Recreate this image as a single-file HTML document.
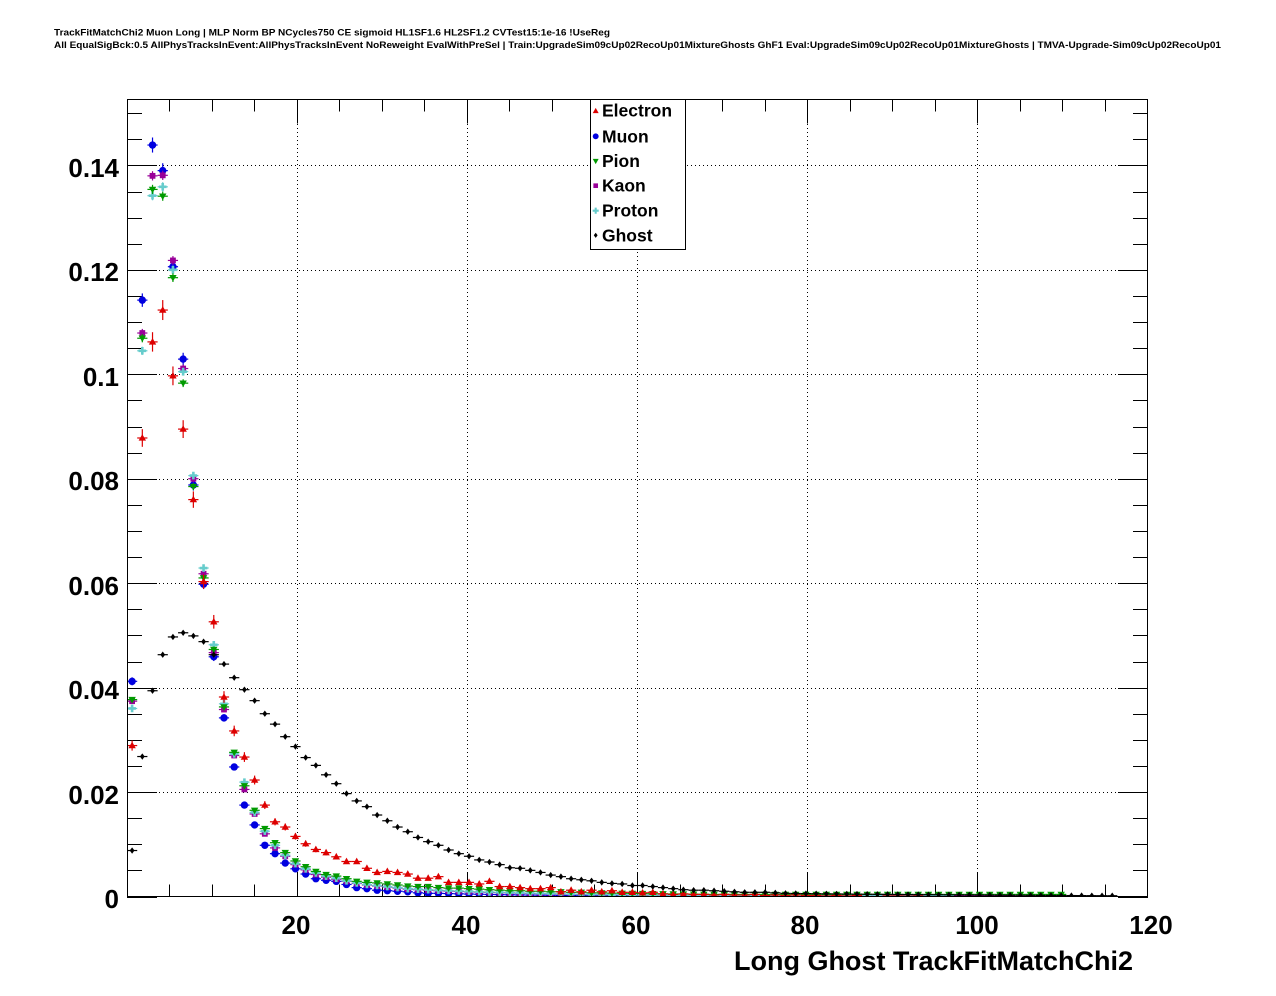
<!DOCTYPE html>
<html>
<head>
<meta charset="utf-8">
<style>
html,body{margin:0;padding:0;background:#fff;}
svg{display:block;}
text{font-family:"Liberation Sans",Arial,Helvetica,sans-serif;font-weight:bold;fill:#000;}
</style>
</head>
<body>
<svg id="c" width="1276" height="996" viewBox="0 0 1276 996" xmlns="http://www.w3.org/2000/svg">
<rect x="0" y="0" width="1276" height="996" fill="#fff"/>
<text x="54" y="35.5" font-size="9" textLength="556" lengthAdjust="spacingAndGlyphs">TrackFitMatchChi2 Muon Long | MLP Norm BP NCycles750 CE sigmoid HL1SF1.6 HL2SF1.2 CVTest15:1e-16 !UseReg</text>
<text x="54" y="48" font-size="9" textLength="1167" lengthAdjust="spacingAndGlyphs">All EqualSigBck:0.5 AllPhysTracksInEvent:AllPhysTracksInEvent NoReweight EvalWithPreSel | Train:UpgradeSim09cUp02RecoUp01MixtureGhosts GhF1 Eval:UpgradeSim09cUp02RecoUp01MixtureGhosts | TMVA-Upgrade-Sim09cUp02RecoUp01</text>

<g stroke="#000" stroke-width="1" stroke-dasharray="1,3" fill="none">
<line x1="127" y1="792.5" x2="1148" y2="792.5"/>
<line x1="127" y1="688.5" x2="1148" y2="688.5"/>
<line x1="127" y1="583.5" x2="1148" y2="583.5"/>
<line x1="127" y1="479.5" x2="1148" y2="479.5"/>
<line x1="127" y1="374.5" x2="1148" y2="374.5"/>
<line x1="127" y1="270.5" x2="1148" y2="270.5"/>
<line x1="127" y1="165.5" x2="1148" y2="165.5"/>
<line x1="297.5" y1="100" x2="297.5" y2="896"/>
<line x1="467.5" y1="100" x2="467.5" y2="896"/>
<line x1="637.5" y1="100" x2="637.5" y2="896"/>
<line x1="807.5" y1="100" x2="807.5" y2="896"/>
<line x1="977.5" y1="100" x2="977.5" y2="896"/>
</g>

<g id="ticks" stroke="#000" stroke-width="1"></g>

<defs><clipPath id="fr"><rect x="127" y="100" width="1021" height="797"/></clipPath></defs>
<g id="data" clip-path="url(#fr)"></g>

<rect x="127.5" y="99.5" width="1020" height="797" fill="none" stroke="#000" stroke-width="1"/>

<g font-size="26" text-anchor="end">
<text x="119" y="908">0</text>
<text x="119" y="804">0.02</text>
<text x="119" y="699">0.04</text>
<text x="119" y="595">0.06</text>
<text x="119" y="490">0.08</text>
<text x="119" y="386">0.1</text>
<text x="119" y="281">0.12</text>
<text x="119" y="177">0.14</text>
</g>
<g font-size="26" text-anchor="middle">
<text x="296" y="934">20</text>
<text x="466" y="934">40</text>
<text x="636" y="934">60</text>
<text x="805" y="934">80</text>
<text x="977" y="934">100</text>
<text x="1151" y="934">120</text>
</g>
<text x="1133" y="970" font-size="27" text-anchor="end">Long Ghost TrackFitMatchChi2</text>

<rect x="590.5" y="99.5" width="95" height="150" fill="#fff" stroke="#000" stroke-width="1"/>
<g id="legm"></g>
<g font-size="17.5">
<text x="602" y="116.7">Electron</text>
<text x="602" y="142.3">Muon</text>
<text x="602" y="167">Pion</text>
<text x="602" y="191.7">Kaon</text>
<text x="602" y="216.7">Proton</text>
<text x="602" y="241.3">Ghost</text>
</g>
</svg>
<script>
(function(){
var NS="http://www.w3.org/2000/svg";
function el(tag,attrs,parent){var e=document.createElementNS(NS,tag);for(var k in attrs)e.setAttribute(k,attrs[k]);parent.appendChild(e);return e;}
var X0=127,SX=8.508,Y0=897.0,SY=5222;
function px(x){return X0+x*SX;}
function py(v){return Y0-v*SY;}

// ticks
var tg=document.getElementById('ticks');
function ln(p,x1,y1,x2,y2){el('line',{x1:x1,y1:y1,x2:x2,y2:y2},p);}
for(var k=0;k<=30;k++){
  var y=Math.round(py(k*0.005)-0.5)+0.5; if(y<100)continue;
  var L=(k%4==0)?30:15;
  ln(tg,127,y,127+L,y); ln(tg,1148-L,y,1148,y);
}
for(var k=1;k<24;k++){
  var x=Math.round(px(k*5)-0.5)+0.5;
  var L=(k%4==0)?24:12;
  ln(tg,x,896.5-L,x,896.5); ln(tg,x,99.5,x,99.5+L);
}

// data
function extend(arr,tau,floor,end){
  var n=arr.length,last=arr[n-1];
  for(var i=n;i<=end;i++){var v=last*Math.exp(-(i-n+1)/tau);if(v<floor)v=floor;arr.push(v);}
  return arr;
}
var E=[0.0290,0.0879,0.1063,0.1124,0.0998,0.0896,0.0761,0.0604,0.0527,0.0383,0.0318,0.0268,0.0224,0.0176,0.0144,0.0134,0.0116,0.0102,0.0091,0.0085,0.0077,0.0068,0.0068,0.0055,0.0047,0.0049,0.0047,0.0044,0.0036,0.0036,0.0039,0.0028,0.0028,0.0028,0.0025,0.0030,0.0020,0.0020,0.0018,0.0016,0.0016,0.0018,0.0010,0.0013,0.0010,0.0013,0.0010,0.0012,0.0009,0.0009,0.0008,0.0009,
0.0006,0.0005,0.0006,0.0005,0.0005,0.0004,0.0005,0.0004,0.0004,0.0005,0.0003,0.0004,
0.0003,0.0004,0.0003,0.0003,0.0002,0.0003,0.0002,0.0003,0,0,0.0002,0.0002,0.00015,0.0002];
var M=extend([0.0413,0.1143,0.1440,0.1391,0.1207,0.1030,0.0789,0.0599,0.0460,0.0343,0.0249,0.0176,0.0138,0.0099,0.0083,0.0065,0.0054,0.0044,0.0035,0.0032,0.0030,0.0024,0.0018,0.0016,0.0013,0.0012,0.0011,0.0010,0.0008,0.0007,0.0007],14,0.00012,70);
var P=extend([0.0378,0.1070,0.1355,0.1342,0.1186,0.0984,0.0786,0.0611,0.0474,0.0364,0.0277,0.0213,0.0166,0.0131,0.0104,0.0085,0.0069,0.0058,0.0049,0.0043,0.0040,0.0035,0.0030,0.0028,0.0027,0.0025,0.0023,0.0021,0.0020,0.0020,0.0018,0.0017,0.0017,0.0016,0.0015,0.0014,0.0013,0.0012,0.0012,0.0011,0.0011,0.0010,0.0010,0.0009,0.0009,0.0008],25,0.0005,91);
var K=extend([0.0375,0.1080,0.1381,0.1382,0.1219,0.1012,0.0801,0.0619,0.0468,0.0359,0.0271,0.0206,0.0159,0.0121,0.0094,0.0078,0.0062,0.0052,0.0043,0.0038,0.0034,0.0030,0.0026,0.0023,0.0021,0.0019,0.0017,0.0015,0.0014,0.0013,0.0012],16,0.00025,86);
var R=extend([0.0361,0.1046,0.1343,0.1360,0.1201,0.1006,0.0807,0.0630,0.0483,0.0370,0.0274,0.0220,0.0162,0.0126,0.0099,0.0080,0.0064,0.0054,0.0046,0.0040,0.0036,0.0031,0.0027,0.0024,0.0022,0.0020,0.0018,0.0016,0.0015,0.0014,0.0013],16,0.00022,80);
var G=extend([0.0089,0.0269,0.0395,0.0464,0.0498,0.0506,0.0500,0.0489,0.0464,0.0446,0.0420,0.0397,0.0376,0.0351,0.0331,0.0307,0.0288,0.0267,0.0252,0.0234,0.0217,0.0198,0.0184,0.0173,0.0157,0.0146,0.0134,0.0125,0.0114,0.0106,0.0099,0.0090,0.0083,0.0078,0.0071,0.0067,0.0062,0.0056,0.0055,0.0051,0.0047,0.0042,0.0039,0.0035,0.0033,0.0031,0.0028,0.0026,0.0025,0.0022,0.0022,0.0020,0.0018,0.0016,0.0014,0.0013,0.0013,0.0012,0.0011,0.0010,0.0009,0.0009,0.0009,0.0008,0.0007],30,0.0002,96);

function marker(g,type,cx,cy,col,s){
  s=s||1;
  if(type=='circle'){el('circle',{cx:cx,cy:cy,r:3.7*s,fill:col},g);}
  else if(type=='up'){el('polygon',{points:(cx)+','+(cy-3.9*s)+' '+(cx+3.7*s)+','+(cy+2.7*s)+' '+(cx-3.7*s)+','+(cy+2.7*s),fill:col},g);}
  else if(type=='down'){el('polygon',{points:(cx-3.7*s)+','+(cy-2.7*s)+' '+(cx+3.7*s)+','+(cy-2.7*s)+' '+(cx)+','+(cy+3.9*s),fill:col},g);}
  else if(type=='square'){el('rect',{x:cx-2.9*s,y:cy-2.9*s,width:5.8*s,height:5.8*s,fill:col},g);}
  else if(type=='cross'){var a=1.3*s,b=3.8*s;
    el('polygon',{points:[cx-a,cy-b,cx+a,cy-b,cx+a,cy-a,cx+b,cy-a,cx+b,cy+a,cx+a,cy+a,cx+a,cy+b,cx-a,cy+b,cx-a,cy+a,cx-b,cy+a,cx-b,cy-a,cx-a,cy-a].join(' '),fill:col},g);}
  else if(type=='diamond'){el('polygon',{points:(cx)+','+(cy-3.2*s)+' '+(cx+2.4*s)+','+(cy)+' '+(cx)+','+(cy+3.2*s)+' '+(cx-2.4*s)+','+(cy),fill:col},g);}
}

var dg=document.getElementById('data');
function series(arr,type,col,k){
  var g=el('g',{},dg);
  var eg=el('g',{stroke:col,'stroke-width':1.2},g);
  for(var i=0;i<arr.length;i++){
    var v=arr[i]; if(!v||v<=0)continue;
    var cx=px(0.6+1.2*i), cy=py(v), e=k*Math.sqrt(v)*SY;
    el('line',{x1:cx-5.1,y1:cy,x2:cx+5.1,y2:cy},eg);
    if(e>0.5) el('line',{x1:cx,y1:cy-e,x2:cx,y2:cy+e},eg);
  }
  for(var i=0;i<arr.length;i++){
    var v=arr[i]; if(!v||v<=0)continue;
    marker(g,type,px(0.6+1.2*i),py(v),col,1);
  }
}
var RED='#dd0000',BLUE='#0000e0',GREEN='#009a00',PURP='#990099',CYAN='#66cccc';
series(M,'circle',BLUE,0.0038);
series(K,'square',PURP,0.0024);
series(R,'cross',CYAN,0.0024);
series(P,'down',GREEN,0.0024);
series(E,'up',RED,0.0057);
series(G,'diamond','#000',0.0006);

var lg=document.getElementById('legm');
marker(lg,'up',595.7,111,RED,0.8);
marker(lg,'circle',595.7,136.3,BLUE,0.8);
marker(lg,'down',595.7,161,GREEN,0.8);
marker(lg,'square',595.7,185.7,PURP,0.8);
marker(lg,'cross',595.7,210.7,CYAN,0.8);
marker(lg,'diamond',595.7,235.3,'#000',0.8);
})();
</script>
</body>
</html>
